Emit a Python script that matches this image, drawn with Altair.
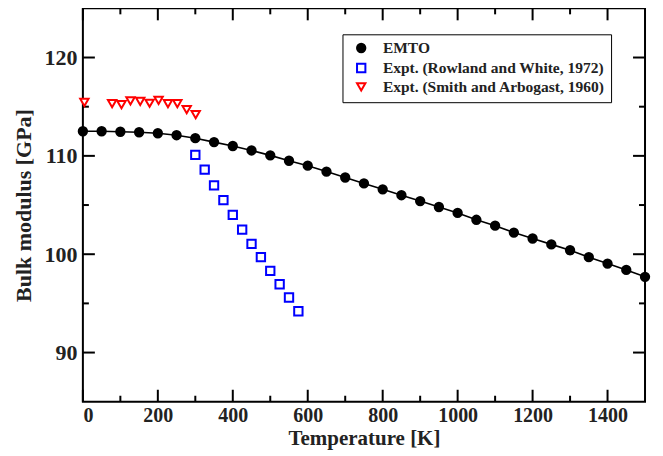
import altair as alt
import pandas as pd

# EMTO calculations
emto_T = list(range(0, 1501, 50))
emto_B = [112.5, 112.5, 112.45, 112.4, 112.3, 112.1, 111.8, 111.4, 111.0, 110.55,
          110.05, 109.5, 109.0, 108.4, 107.8, 107.2, 106.6, 106.0, 105.4, 104.8,
          104.2, 103.5, 102.9, 102.2, 101.6, 101.0, 100.4, 99.7, 99.05, 98.4, 97.7]
# Rowland and White 1972
rw_T = [300, 325, 350, 375, 400, 425, 450, 475, 500, 525, 550, 575]
rw_B = [110.1, 108.6, 107.0, 105.5, 104.0, 102.5, 101.05, 99.7, 98.3, 96.95, 95.6, 94.2]
# Smith and Arbogast 1960
sa_T = [4, 78, 103, 127, 153, 178, 202, 227, 252, 277, 301]
sa_B = [115.45, 115.3, 115.2, 115.6, 115.55, 115.35, 115.65, 115.3, 115.3, 114.7, 114.2]

series_names = ["EMTO", "Expt. (Rowland and White, 1972)", "Expt. (Smith and Arbogast, 1960)"]
series_colors = ["black", "#0000ff", "#ff0000"]
series_fills = ["black", "white", "white"]
x_major = [0, 200, 400, 600, 800, 1000, 1200, 1400]
x_minor = [100, 300, 500, 700, 900, 1100, 1300]
y_major = [90, 100, 110, 120]
y_minor = [95, 105, 115]
x_domain = [0, 1500]
y_domain = [85, 125]

W, H = 563, 394
FONT = "Times New Roman"

pts = pd.concat([
    pd.DataFrame({"T": emto_T, "B": emto_B, "s": series_names[0]}),
    pd.DataFrame({"T": rw_T, "B": rw_B, "s": series_names[1]}),
    pd.DataFrame({"T": sa_T, "B": sa_B, "s": series_names[2]}),
])
line_df = pd.DataFrame({"T": emto_T, "B": emto_B})

xs = alt.Scale(domain=x_domain, nice=False, zero=False)
ys = alt.Scale(domain=y_domain, nice=False, zero=False)

xaxis = alt.Axis(values=x_major, format="d", labelFontSize=20, labelPadding=4,
                 title="Temperature [K]", titleFontSize=21, titlePadding=2)
yaxis = alt.Axis(values=y_major, format="d", labelFontSize=22, labelPadding=6,
                 title="Bulk modulus [GPa]", titleFontSize=22, titlePadding=8)

line = alt.Chart(line_df).mark_line(color="black", strokeWidth=1.6).encode(
    x=alt.X("T:Q", scale=xs, axis=xaxis),
    y=alt.Y("B:Q", scale=ys, axis=yaxis),
)

legend = alt.Legend(title=None, orient="none", legendX=260, legendY=26,
                    strokeColor="black", fillColor="white", padding=6,
                    labelFont=FONT, labelFontWeight="bold", labelFontSize=15.5, labelColor="#222",
                    labelLimit=500, symbolStrokeWidth=2, rowPadding=2, symbolOffset=5,
                    labelOffset=14, symbolSize=70)

points = alt.Chart(pts).mark_point(size=70, strokeWidth=2, opacity=1, filled=True).encode(
    x=alt.X("T:Q", scale=xs),
    y=alt.Y("B:Q", scale=ys),
    shape=alt.Shape("s:N", scale=alt.Scale(domain=series_names, range=["circle", "square", "triangle-down"]), legend=legend),
    fill=alt.Fill("s:N", scale=alt.Scale(domain=series_names, range=series_fills), legend=legend),
    stroke=alt.Stroke("s:N", scale=alt.Scale(domain=series_names, range=series_colors), legend=legend),
)

# inward tick marks drawn as stroked symbol paths anchored on the frame edges
MAJ_SIZE = 144  # sqrt(size)/2 = 6 -> path length 2 units = 12 px
MIN_SIZE = 36   # 3 -> 6 px


def xtick(vals, size, edge, path):
    return alt.Chart(pd.DataFrame({"v": vals})).mark_point(
        shape=path, size=size, filled=False, color="black", strokeWidth=2, opacity=1
    ).encode(x=alt.X("v:Q", scale=xs), y=alt.datum(edge, scale=ys))


def ytick(vals, size, edge, path):
    return alt.Chart(pd.DataFrame({"v": vals})).mark_point(
        shape=path, size=size, filled=False, color="black", strokeWidth=2, opacity=1
    ).encode(y=alt.Y("v:Q", scale=ys), x=alt.datum(edge, scale=xs))


UP, DOWN, RIGHT, LEFT = "M0,0L0,-2", "M0,0L0,2", "M0,0L2,0", "M0,0L-2,0"
ticks = [
    xtick(x_major, MAJ_SIZE, y_domain[0], UP), xtick(x_minor, MIN_SIZE, y_domain[0], UP),
    xtick(x_major, MAJ_SIZE, y_domain[1], DOWN), xtick(x_minor, MIN_SIZE, y_domain[1], DOWN),
    ytick(y_major, MAJ_SIZE, x_domain[0], RIGHT), ytick(y_minor, MIN_SIZE, x_domain[0], RIGHT),
    ytick(y_major, MAJ_SIZE, x_domain[1], LEFT), ytick(y_minor, MIN_SIZE, x_domain[1], LEFT),
]

chart = alt.layer(line, *ticks, points).properties(
    width=W, height=H,
    autosize=alt.AutoSizeParams(type="none"),
    padding={"left": 75, "top": 0, "right": 10, "bottom": 50},
).configure_view(
    stroke="black", strokeWidth=2
).configure_axis(
    ticks=False, domain=False, grid=False,
    labelFont=FONT, labelFontWeight="bold", labelColor="#222",
    titleFont=FONT, titleFontWeight="bold", titleColor="#222",
)

chart.save("out.html", embed_options={"renderer": "svg", "actions": False})
